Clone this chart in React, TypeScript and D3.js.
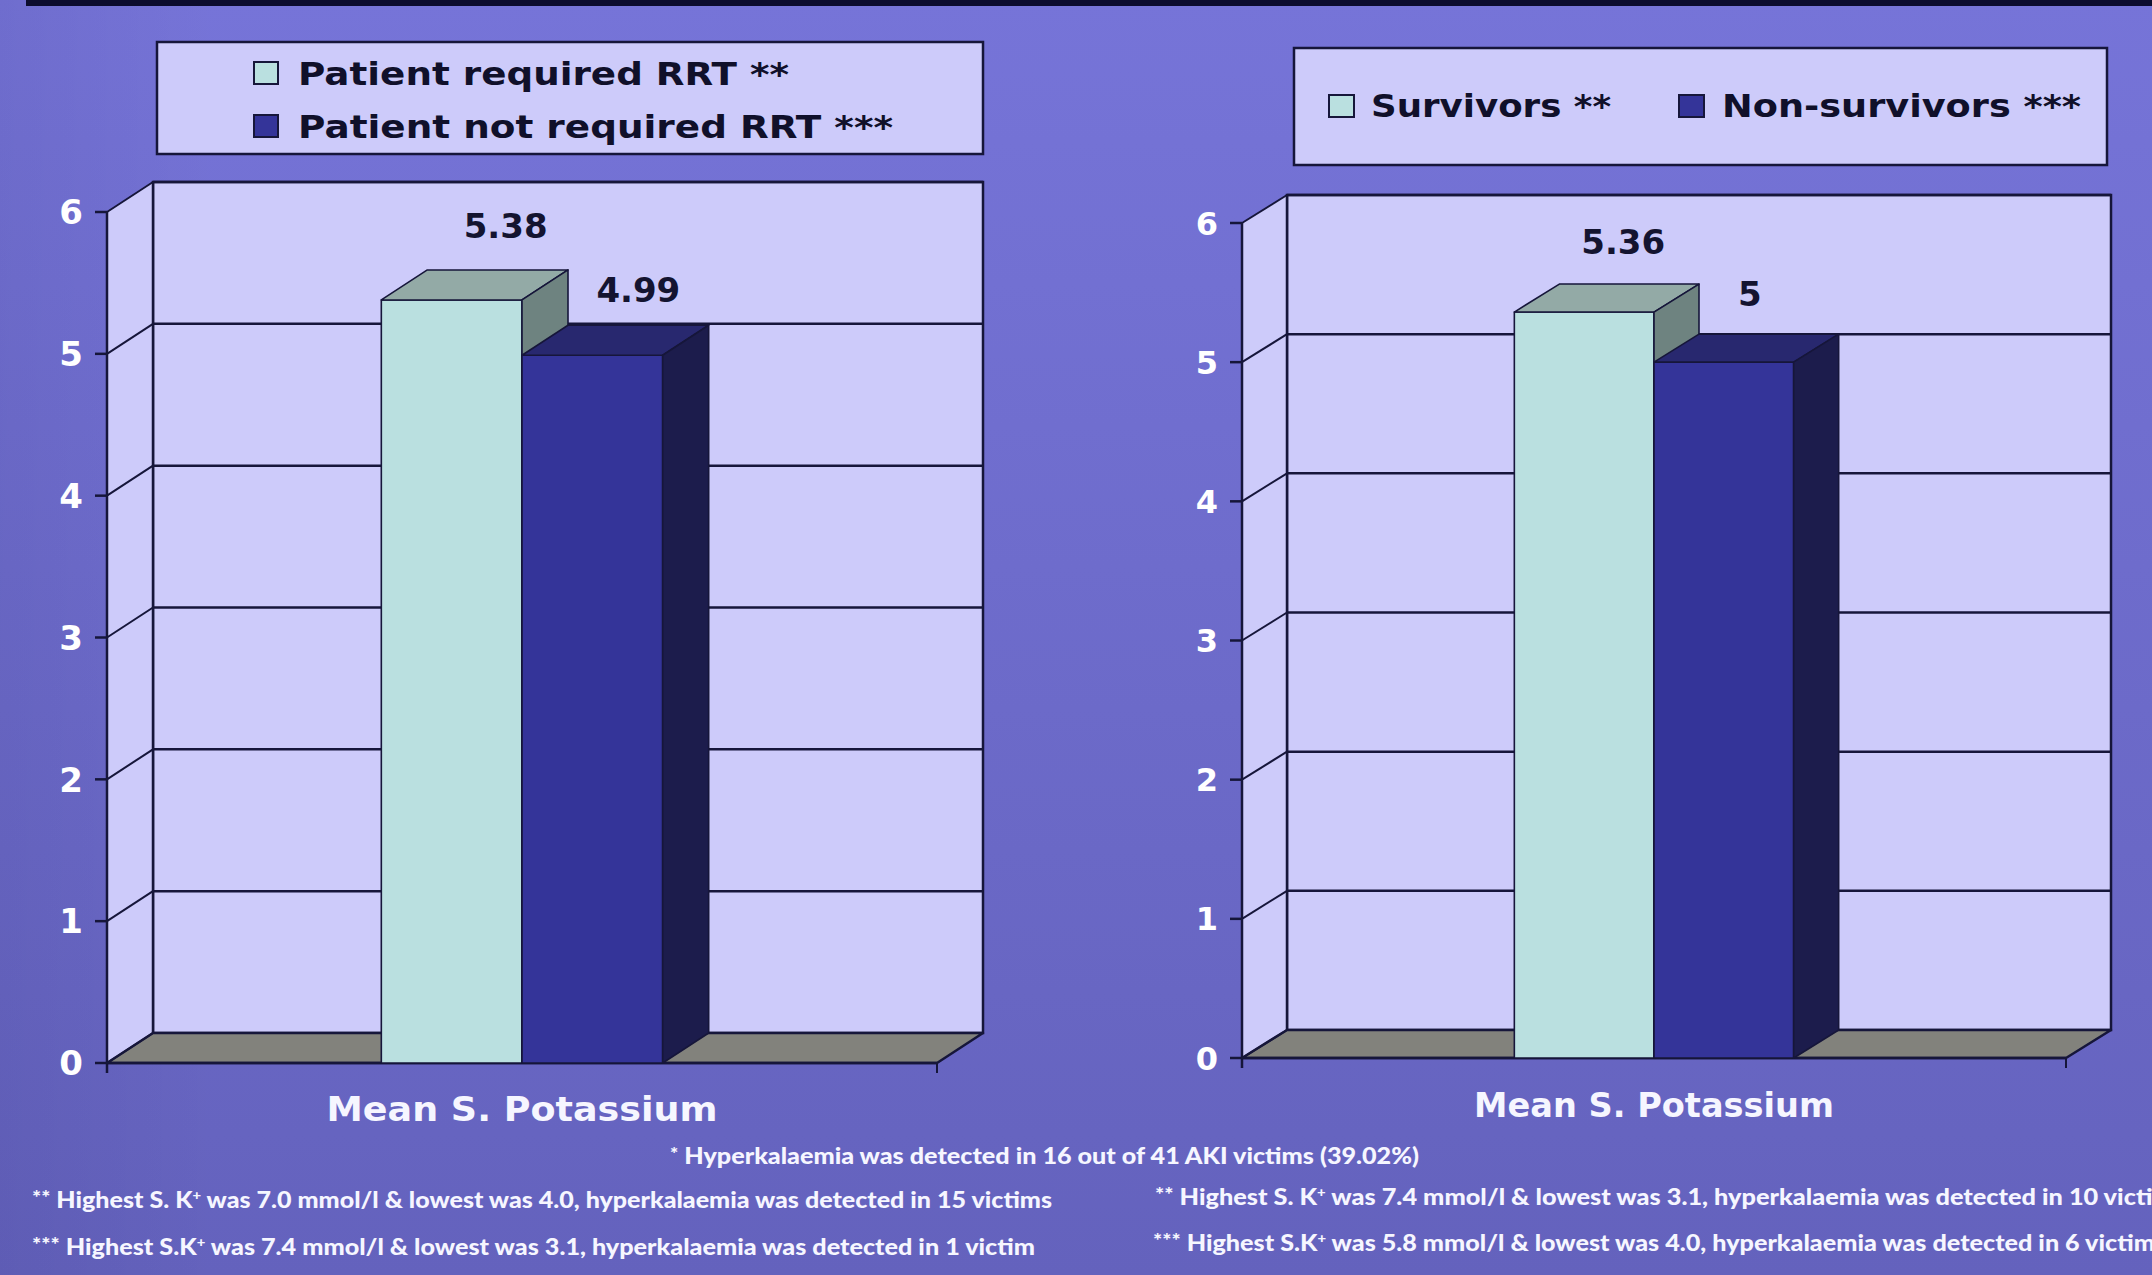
import React, { useEffect } from "react";
import * as d3 from "d3";

// ---------- data ----------
const categories = ["Mean S. Potassium"];
const yTicks = [0, 1, 2, 3, 4, 5, 6];

const leftSeries = ["Patient required RRT **", "Patient not required RRT ***"];
const leftValues = [5.38, 4.99];
const leftValueLabels = ["5.38", "4.99"];

const rightSeries = ["Survivors **", "Non-survivors ***"];
const rightValues = [5.36, 5];
const rightValueLabels = ["5.36", "5"];

const footCenter = "* Hyperkalaemia was detected in 16 out of 41 AKI victims (39.02%)";
const footLeftStars = ["**", "***"];
const footLeftPre = ["Highest S. K", "Highest S.K"];
const footLeftPost = [
  " was 7.0 mmol/l & lowest was 4.0, hyperkalaemia was detected in 15 victims",
  " was 7.4 mmol/l & lowest was 3.1, hyperkalaemia was detected in 1 victim",
];
const footRightStars = ["**", "***"];
const footRightPre = ["Highest S. K", "Highest S.K"];
const footRightPost = [
  " was 7.4 mmol/l & lowest was 3.1, hyperkalaemia was detected in 10 victims",
  " was 5.8 mmol/l & lowest was 4.0, hyperkalaemia was detected in 6 victims",
];

// ---------- styles ----------
const W = 2152;
const H = 1275;
const WALL = "#cdcbfa";
const FLOOR = "#82827c";
const INK = "#16163a";
const FRONT = ["#bae0e0", "#343499"];
const TOP = ["#93aaa6", "#28286f"];
const SIDE = ["#6e8380", "#1c1c4c"];
const BOLD = "'DejaVu Sans', Verdana, sans-serif";
const FOOT = "Lato, 'Open Sans', sans-serif";

type Panel = {
  x0: number; x1: number; yTop: number; yBot: number; dx: number; dy: number;
  tickSize: number; values: number[]; labels: string[];
  labelOff: { dx: number; gap: number }[];
  titleY: number; titleLen: number;
};

const panels: Panel[] = [
  {
    x0: 107, x1: 937, yTop: 212, yBot: 1063, dx: 46, dy: 30, tickSize: 34,
    values: leftValues, labels: leftValueLabels,
    labelOff: [{ dx: 8, gap: 32 }, { dx: 0, gap: 23 }],
    titleY: 1121, titleLen: 391,
  },
  {
    x0: 1242, x1: 2066, yTop: 223, yBot: 1058, dx: 45, dy: 28, tickSize: 32,
    values: rightValues, labels: rightValueLabels,
    labelOff: [{ dx: -6, gap: 30 }, { dx: -19, gap: 28 }],
    titleY: 1117, titleLen: 360,
  },
];

function Chart3D({ p }: { p: Panel }) {
  const y = d3.scaleLinear().domain([0, 6]).range([p.yBot, p.yTop]);
  const band = d3.scaleBand<string>().domain(categories).range([p.x0, p.x1]).paddingOuter(0.975).paddingInner(0);
  const sub = d3.scaleBand<string>().domain(["0", "1"]).range([0, band.bandwidth()]);
  const { dx, dy } = p;
  const pts = (a: number[][]) => a.map((q) => q.join(",")).join(" ");
  const bx0 = p.x0 + dx;
  const bx1 = p.x1 + dx;

  return (
    <g>
      <rect x={bx0} y={y(6) - dy} width={bx1 - bx0} height={y(0) - y(6)} fill={WALL} stroke={INK} strokeWidth={2.5} />
      <polygon points={pts([[p.x0, y(6)], [bx0, y(6) - dy], [bx0, y(0) - dy], [p.x0, y(0)]])} fill={WALL} stroke="none" />
      <polygon points={pts([[p.x0, y(0)], [bx0, y(0) - dy], [bx1, y(0) - dy], [p.x1, y(0)]])} fill={FLOOR} stroke={INK} strokeWidth={2.5} strokeLinejoin="round" />
      {yTicks.map((v) => (
        <g key={v}>
          {v > 0 && <line x1={bx0} x2={bx1} y1={y(v) - dy} y2={y(v) - dy} stroke={INK} strokeWidth={2.5} />}
          <line x1={p.x0} x2={bx0} y1={y(v)} y2={y(v) - dy} stroke={INK} strokeWidth={2} />
          <line x1={p.x0 - 12} x2={p.x0} y1={y(v)} y2={y(v)} stroke={INK} strokeWidth={2.5} />
          <text x={p.x0 - 24} y={y(v)} dy="0.36em" textAnchor="end" fill="#ffffff" fontFamily={BOLD} fontWeight="bold" fontSize={p.tickSize}>
            {v}
          </text>
        </g>
      ))}
      <line x1={bx0} x2={bx0} y1={y(6) - dy} y2={y(0) - dy} stroke={INK} strokeWidth={2.5} />
      <line x1={p.x0} x2={p.x0} y1={y(6)} y2={y(0) + 10} stroke={INK} strokeWidth={2.5} />
      <line x1={p.x0} x2={p.x1} y1={y(0)} y2={y(0)} stroke={INK} strokeWidth={2.5} />
      <line x1={p.x1} x2={p.x1} y1={y(0)} y2={y(0) + 10} stroke={INK} strokeWidth={2} />
      {categories.map((c) => (
        <g key={c}>
          {p.values.map((v, i) => {
            const xb = (band(c) as number) + (sub(String(i)) as number);
            const w = sub.bandwidth();
            const yv = y(v);
            const y0 = y(0);
            return (
              <g key={i} stroke={INK} strokeWidth={1.6} strokeLinejoin="round">
                <rect x={xb} y={yv} width={w} height={y0 - yv} fill={FRONT[i]} />
                <polygon points={pts([[xb, yv], [xb + dx, yv - dy], [xb + w + dx, yv - dy], [xb + w, yv]])} fill={TOP[i]} />
                <polygon points={pts([[xb + w, yv], [xb + w + dx, yv - dy], [xb + w + dx, y0 - dy], [xb + w, y0]])} fill={SIDE[i]} />
              </g>
            );
          })}
          {p.values.map((v, i) => {
            const xb = (band(c) as number) + (sub(String(i)) as number);
            const w = sub.bandwidth();
            return (
              <text key={"l" + i} x={xb + w / 2 + dx + p.labelOff[i].dx} y={y(v) - dy - p.labelOff[i].gap}
                textAnchor="middle" fill="#141430" fontFamily={BOLD} fontWeight="bold" fontSize={34}>
                {p.labels[i]}
              </text>
            );
          })}
          <text x={(band(c) as number) + band.bandwidth() / 2} y={p.titleY} textAnchor="middle" fill="#f6f6ff"
            fontFamily={BOLD} fontWeight="bold" fontSize={33} textLength={p.titleLen} lengthAdjust="spacingAndGlyphs">
            {c}
          </text>
        </g>
      ))}
    </g>
  );
}

function Foot({ x, y, len, stars, pre, post }: { x: number; y: number; len: number; stars: string; pre: string; post: string }) {
  return (
    <text x={x} y={y} fill="#f6f6ff" fontFamily={FOOT} fontWeight={900} fontSize={22} textLength={len} lengthAdjust="spacingAndGlyphs">
      <tspan fontSize={19} dy={-4}>{stars}</tspan>
      <tspan dy={4}>{" " + pre}</tspan>
      <tspan fontSize={13} dy={-8}>+</tspan>
      <tspan dy={8}>{post}</tspan>
    </text>
  );
}

export default function App() {
  useEffect(() => {
    document.body.style.margin = "0";
    document.body.style.overflow = "hidden";
  }, []);

  return (
    <svg width={W} height={H} style={{ position: "absolute", left: 0, top: 0, display: "block" }}>
      <defs>
        <linearGradient id="bg" x1="0" y1="0" x2="0" y2="1">
          <stop offset="0" stopColor="#7674d8" />
          <stop offset="1" stopColor="#6462bd" />
        </linearGradient>
        <linearGradient id="bgl" x1="0" y1="0" x2="1" y2="0">
          <stop offset="0" stopColor="#000030" stopOpacity={0.06} />
          <stop offset="0.1" stopColor="#000030" stopOpacity={0} />
        </linearGradient>
      </defs>
      <rect x={0} y={0} width={W} height={H} fill="url(#bg)" />
      <rect x={0} y={0} width={W} height={H} fill="url(#bgl)" />
      <rect x={26} y={0} width={2126} height={6} fill="#0c0c2e" />

      <rect x={157} y={42} width={826} height={112} fill={WALL} stroke={INK} strokeWidth={2.5} />
      {leftSeries.map((s, i) => (
        <g key={s}>
          <rect x={254} y={[62, 115][i]} width={24} height={22} fill={FRONT[i]} stroke={INK} strokeWidth={2} />
          <text x={298} y={[85, 138][i]} fill="#10102a" fontFamily={BOLD} fontWeight="bold" fontSize={32}
            textLength={[491, 595][i]} lengthAdjust="spacingAndGlyphs">{s}</text>
        </g>
      ))}

      <rect x={1294} y={48} width={813} height={117} fill={WALL} stroke={INK} strokeWidth={2.5} />
      {rightSeries.map((s, i) => (
        <g key={s}>
          <rect x={[1329, 1679][i]} y={95} width={25} height={22} fill={FRONT[i]} stroke={INK} strokeWidth={2} />
          <text x={[1371, 1722][i]} y={117} fill="#10102a" fontFamily={BOLD} fontWeight="bold" fontSize={32}
            textLength={[240, 359][i]} lengthAdjust="spacingAndGlyphs">{s}</text>
        </g>
      ))}

      {panels.map((p, i) => (
        <Chart3D key={i} p={p} />
      ))}

      <text x={670} y={1164} fill="#f6f6ff" fontFamily={FOOT} fontWeight={900} fontSize={22} textLength={749} lengthAdjust="spacingAndGlyphs">
        <tspan fontSize={17} dy={-4}>*</tspan>
        <tspan dy={4}>{footCenter.slice(1)}</tspan>
      </text>
      {footLeftStars.map((s, i) => (
        <Foot key={"fl" + i} x={32} y={[1208, 1255][i]} len={[1020, 1003][i]} stars={s} pre={footLeftPre[i]} post={footLeftPost[i]} />
      ))}
      {footRightStars.map((s, i) => (
        <Foot key={"fr" + i} x={[1155, 1153][i]} y={[1205, 1251][i]} len={[1030, 1013][i]} stars={s} pre={footRightPre[i]} post={footRightPost[i]} />
      ))}
    </svg>
  );
}
